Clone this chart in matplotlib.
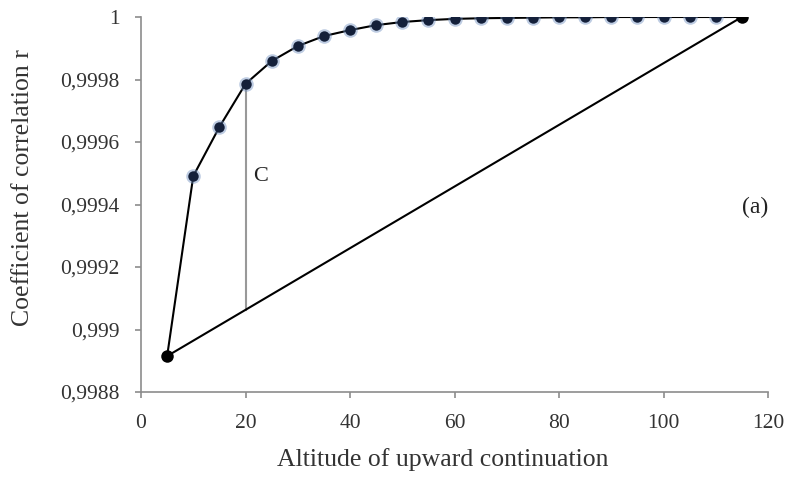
import matplotlib
matplotlib.use('Agg')
import matplotlib.pyplot as plt
from matplotlib.ticker import FuncFormatter

# correlation coefficient vs altitude of upward continuation
altitude = [5, 10, 15, 20, 25, 30, 35, 40, 45, 50, 55, 60, 65, 70, 75,
            80, 85, 90, 95, 100, 105, 110, 115]
corr = [0.998915, 0.999491, 0.999648, 0.999786, 0.999859, 0.999907,
        0.999939, 0.999958, 0.999974, 0.999984, 0.99999, 0.999994,
        0.999996, 0.999997, 0.999998, 0.999999, 0.999999, 1.0, 1.0,
        1.0, 1.0, 1.0, 1.0]
c_altitude = 20

plt.rcParams['font.family'] = ['Liberation Serif', 'DejaVu Serif']

fig = plt.figure(figsize=(7.99, 4.79), dpi=100)
ax = fig.add_axes([0.1765, 0.1816, 0.7847, 0.7829])

# chord joining the first and last points
x0, y0 = altitude[0], corr[0]
x1, y1 = altitude[-1], corr[-1]
ax.plot([x0, x1], [y0, y1], color='black', lw=1.5, zorder=2)

# vertical distance C between curve and chord
i = altitude.index(c_altitude)
y_chord = y0 + (c_altitude - x0) * (y1 - y0) / (x1 - x0)
ax.plot([c_altitude, c_altitude], [y_chord, corr[i]], color='#999999', lw=1.5, zorder=1)
ax.text(c_altitude + 1.4, 0.99949, 'C', fontsize=16, va='center', ha='left',
        color='#222222')

ax.plot(altitude, corr, color='black', lw=1.5, zorder=3)
ax.plot(altitude[1:-1], corr[1:-1], 'o', ms=10.5, color='#6f8fc0', alpha=0.45,
        markeredgewidth=0, zorder=4)
ax.plot(altitude[1:-1], corr[1:-1], 'o', ms=7.5, color='#14203a',
        markeredgewidth=0, zorder=5)
ax.plot([x0, x1], [y0, y1], 'o', ms=9, color='black', markeredgewidth=0, zorder=5)

ax.text(117.5, 0.99939, '(a)', fontsize=17, va='center', ha='center', color='#222222')

ax.set_xlim(0, 120)
ax.set_ylim(0.9988, 1.0)
ax.set_xticks(range(0, 121, 20))
ax.set_yticks([0.9988, 0.999, 0.9992, 0.9994, 0.9996, 0.9998, 1.0])
ax.yaxis.set_major_formatter(FuncFormatter(
    lambda v, p: ('%.4f' % v).rstrip('0').rstrip('.').replace('.', ',')))

for s in ['top', 'right']:
    ax.spines[s].set_visible(False)
for s in ['left', 'bottom']:
    ax.spines[s].set_color('#8c8c8c')
    ax.spines[s].set_linewidth(1.2)
ax.tick_params(colors='#8c8c8c', labelcolor='#333333', labelsize=15.5,
               length=4.5, width=1.2, pad=11)

fig.text(443 / 799, 1 - 460 / 479, 'Altitude of upward continuation',
         fontsize=18.5, color='#333333', ha='center', va='center')
fig.text(23 / 799, 1 - 188 / 479, 'Coefficient of correlation r',
         fontsize=18.5, color='#333333', ha='center', va='center', rotation=90)

fig.savefig('out.png', dpi=100)
